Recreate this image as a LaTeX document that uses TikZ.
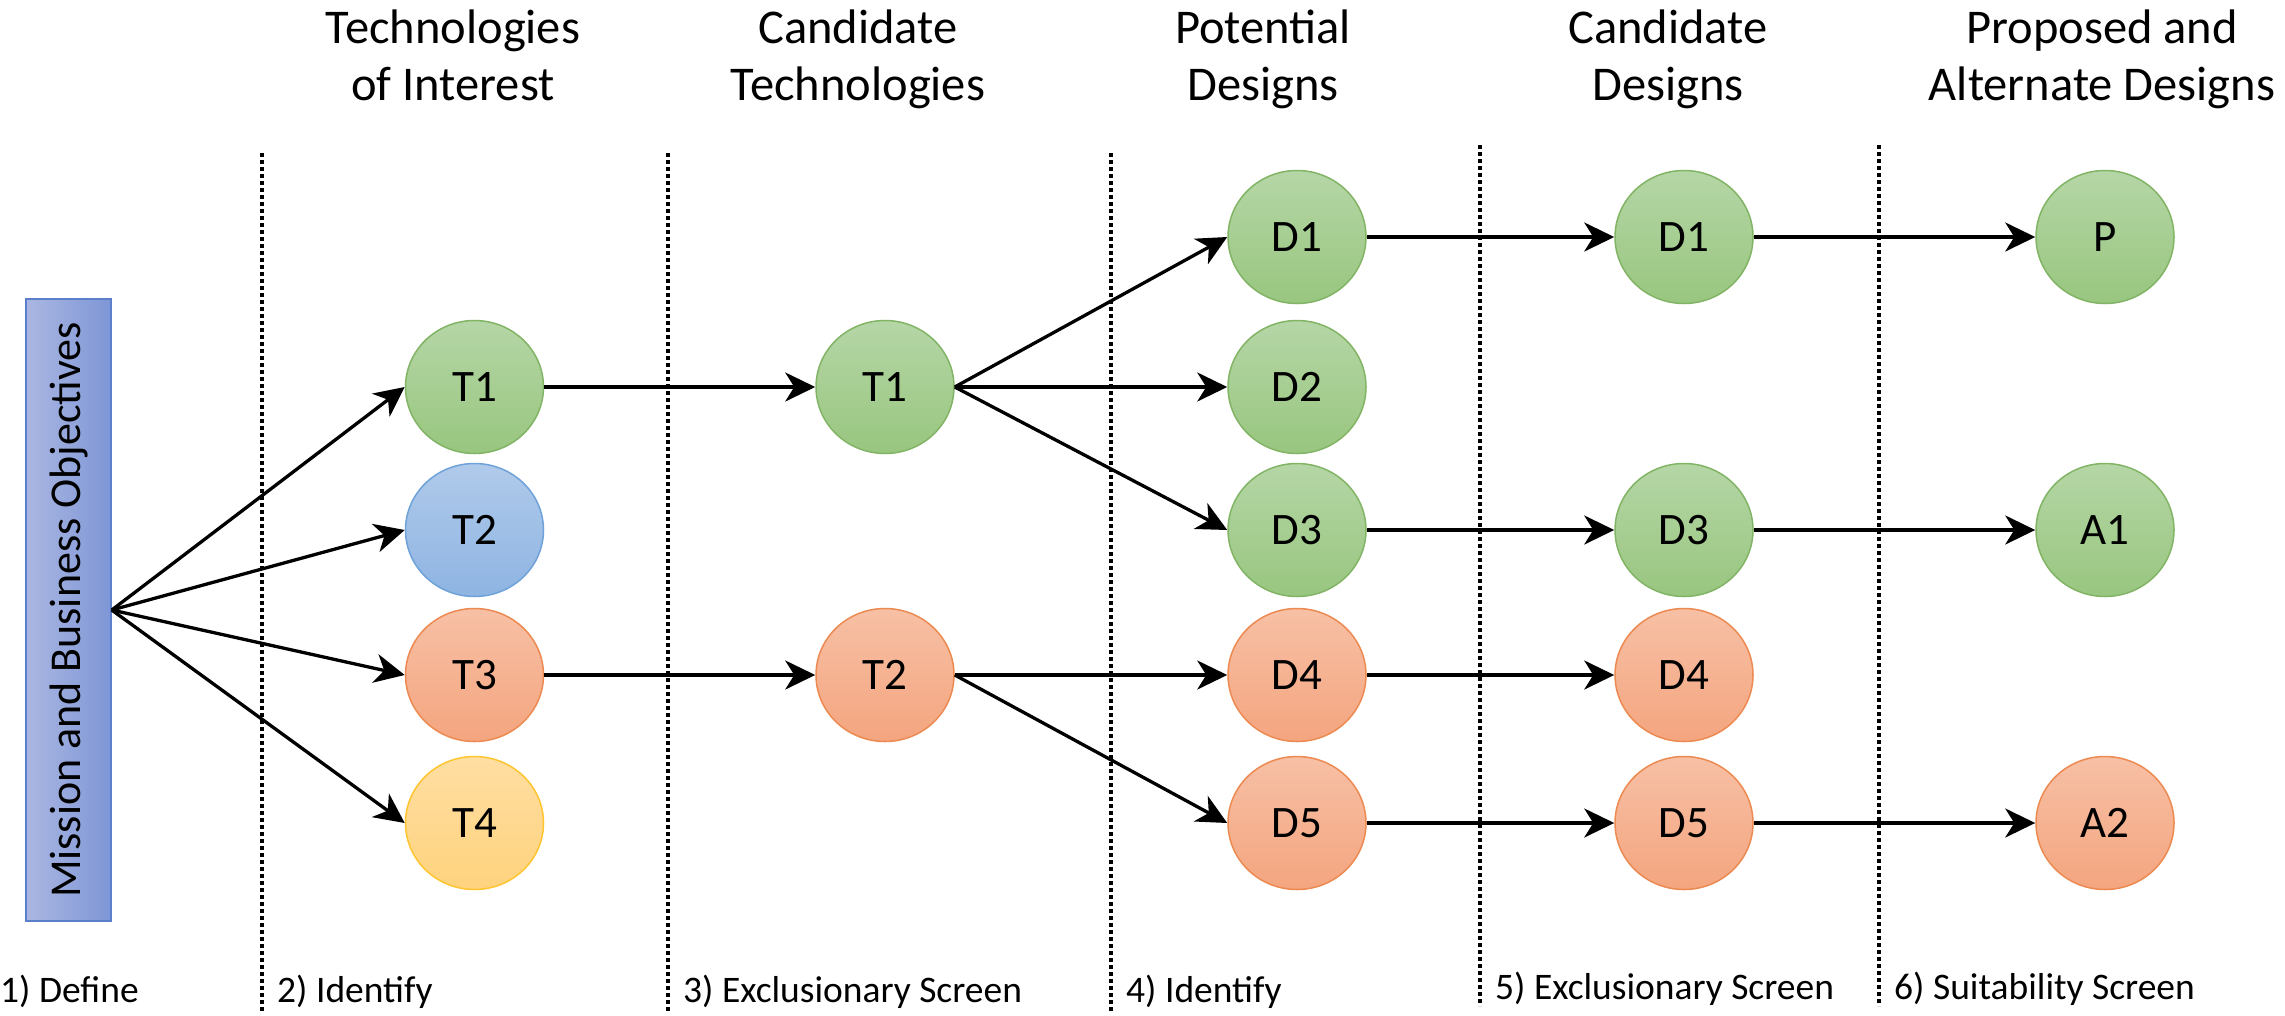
\documentclass[tikz,border=0pt]{standalone}
\usepackage{fontspec}
\setmainfont{Carlito}
\usetikzlibrary{shapes.geometric,arrows.meta}

\definecolor{grnTop}{HTML}{B5D6A6}
\definecolor{grnBot}{HTML}{98C67F}
\definecolor{grnLine}{HTML}{82B466}
\definecolor{bluTop}{HTML}{B0CAEA}
\definecolor{bluBot}{HTML}{8EB4E2}
\definecolor{bluLine}{HTML}{6FA2D9}
\definecolor{orgTop}{HTML}{F7C0A5}
\definecolor{orgBot}{HTML}{F4A57F}
\definecolor{orgLine}{HTML}{EC8A52}
\definecolor{ylwTop}{HTML}{FFDEA2}
\definecolor{ylwBot}{HTML}{FFD37E}
\definecolor{ylwLine}{HTML}{FFC530}
\definecolor{boxLeft}{HTML}{ABB7E2}
\definecolor{boxRight}{HTML}{7E96D6}
\definecolor{boxLine}{HTML}{5B7FCB}

\tikzset{
  disc/.style={ellipse, minimum width=138pt, minimum height=133pt, inner sep=0pt,
    line width=1.5pt, font=\fontsize{45}{54}\selectfont},
  gdisc/.style={disc, draw=grnLine, top color=grnTop, bottom color=grnBot},
  bdisc/.style={disc, draw=bluLine, top color=bluTop, bottom color=bluBot},
  odisc/.style={disc, draw=orgLine, top color=orgTop, bottom color=orgBot},
  ydisc/.style={disc, draw=ylwLine, top color=ylwTop, bottom color=ylwBot},
  objbox/.style={rectangle, minimum width=85pt, minimum height=622pt, inner sep=0pt,
    draw=boxLine, line width=1.5pt, left color=boxLeft, right color=boxRight},
  flow/.style={-{Stealth[length=30pt,width=29pt,inset=9pt]}, line width=3.3pt},
  phase/.style={line width=3.5pt, dash pattern=on 4pt off 3pt},
  head/.style={font=\fontsize{48.5}{58}\selectfont, anchor=base, inner sep=0pt},
  stage/.style={font=\fontsize{37.5}{45}\selectfont, anchor=base west, inner sep=0pt},
}

\begin{document}
\begin{tikzpicture}[x=1pt, y=-1pt]
\useasboundingbox (0,0) rectangle (2285,1015);

% phase separators
\draw[phase] (262,153) -- (262,1012);
\draw[phase] (668,153) -- (668,1012);
\draw[phase] (1111,153) -- (1111,1012);
\draw[phase] (1480,145) -- (1480,1006);
\draw[phase] (1879,145) -- (1879,1006);

% column headings
\node[head] (h1a) at (453,43)  {Technologies};
\node[head] (h1b) at (453,100) {of Interest};
\node[head] (h2a) at (858,43)  {Candidate};
\node[head] (h2b) at (858,100) {Technologies};
\node[head] (h3a) at (1263,43) {Potential};
\node[head] (h3b) at (1263,100) {Designs};
\node[head] (h4a) at (1668,43) {Candidate};
\node[head] (h4b) at (1668,100) {Designs};
\node[head] (h5a) at (2102,43) {Proposed and};
\node[head] (h5b) at (2102,100) {Alternate Designs};

% stage captions
\node[stage] (s1) at (0,1002)    {1) Define};
\node[stage] (s2) at (277,1002)  {2) Identify};
\node[stage] (s3) at (683,1002)  {3) Exclusionary Screen};
\node[stage] (s4) at (1126,1002) {4) Identify};
\node[stage] (s5) at (1495,999)  {5) Exclusionary Screen};
\node[stage] (s6) at (1894,999)  {6) Suitability Screen};

% objectives
\node[objbox] (M) at (68.5,610) {};
\node[rotate=90, inner sep=0pt, font=\fontsize{44}{52}\selectfont] (Mtxt) at (M.center)
  {Mission and Business Objectives};

% technologies of interest
\node[gdisc] (T1) at (474.5,387) {T1};
\node[bdisc] (T2) at (474.5,530) {T2};
\node[odisc] (T3) at (474.5,675) {T3};
\node[ydisc] (T4) at (474.5,823) {T4};

% candidate technologies
\node[gdisc] (C1) at (885,387) {T1};
\node[odisc] (C2) at (885,675) {T2};

% potential designs
\node[gdisc] (D1) at (1297,237) {D1};
\node[gdisc] (D2) at (1297,387) {D2};
\node[gdisc] (D3) at (1297,530) {D3};
\node[odisc] (D4) at (1297,675) {D4};
\node[odisc] (D5) at (1297,823) {D5};

% candidate designs
\node[gdisc] (E1) at (1684,237) {D1};
\node[gdisc] (E3) at (1684,530) {D3};
\node[odisc] (E4) at (1684,675) {D4};
\node[odisc] (E5) at (1684,823) {D5};

% proposed and alternate designs
\node[gdisc] (P)  at (2105,237) {P};
\node[gdisc] (A1) at (2105,530) {A1};
\node[odisc] (A2) at (2105,823) {A2};

% flows
\draw[flow] (M.east) -- (T1.west);
\draw[flow] (M.east) -- (T2.west);
\draw[flow] (M.east) -- (T3.west);
\draw[flow] (M.east) -- (T4.west);

\draw[flow] (T1.east) -- (C1.west);
\draw[flow] (T3.east) -- (C2.west);

\draw[flow] (C1.east) -- (D1.west);
\draw[flow] (C1.east) -- (D2.west);
\draw[flow] (C1.east) -- (D3.west);
\draw[flow] (C2.east) -- (D4.west);
\draw[flow] (C2.east) -- (D5.west);

\draw[flow] (D1.east) -- (E1.west);
\draw[flow] (D3.east) -- (E3.west);
\draw[flow] (D4.east) -- (E4.west);
\draw[flow] (D5.east) -- (E5.west);

\draw[flow] (E1.east) -- (P.west);
\draw[flow] (E3.east) -- (A1.west);
\draw[flow] (E5.east) -- (A2.west);
\end{tikzpicture}
\end{document}
